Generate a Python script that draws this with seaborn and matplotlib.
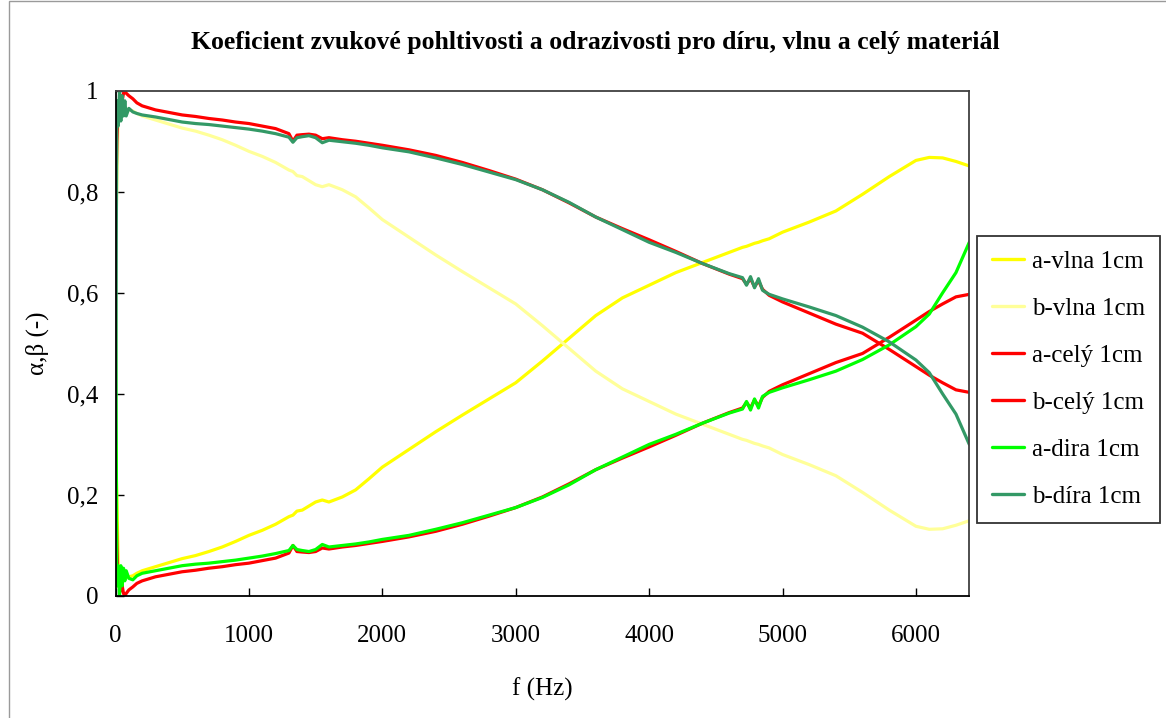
import numpy as np
import pandas as pd
import matplotlib
matplotlib.use("Agg")
import matplotlib.pyplot as plt
import matplotlib.patches as mpatches
from matplotlib.ticker import FuncFormatter, MultipleLocator
import seaborn as sns

freq = [0, 10, 20, 30, 40, 50, 60, 70, 80, 100, 130, 160, 200, 300, 400, 500, 600, 700, 800, 900,
        1000, 1100, 1200, 1300, 1330, 1360, 1400, 1450, 1500, 1550, 1600, 1700, 1800, 1900,
        2000, 2200, 2400, 2600, 2800, 3000, 3200, 3400, 3600, 3800, 4000, 4200, 4400, 4600,
        4700, 4730, 4760, 4790, 4820, 4850, 4900, 5000, 5200, 5400, 5600, 5800, 6000, 6100,
        6200, 6300, 6400]

a_vlna = [0.30, 0.20, 0.06, 0.04, 0.05, 0.035, 0.04, 0.038, 0.036, 0.038, 0.040, 0.045, 0.050,
          0.058, 0.066, 0.074, 0.080, 0.088, 0.097, 0.108, 0.120, 0.130, 0.142, 0.157, 0.160,
          0.168, 0.170, 0.178, 0.186, 0.190, 0.186, 0.196, 0.210, 0.232, 0.255, 0.290, 0.325,
          0.358, 0.390, 0.422, 0.465, 0.510, 0.555, 0.590, 0.615, 0.640, 0.660, 0.680, 0.690,
          0.692, 0.695, 0.698, 0.700, 0.703, 0.707, 0.720, 0.740, 0.762, 0.795, 0.830, 0.862,
          0.868, 0.867, 0.860, 0.851]

b_vlna = [0.70, 0.80, 0.94, 0.96, 0.95, 0.965, 0.96, 0.962, 0.964, 0.962, 0.960, 0.955, 0.950,
          0.942, 0.934, 0.926, 0.920, 0.912, 0.903, 0.892, 0.880, 0.870, 0.858, 0.843, 0.840,
          0.832, 0.830, 0.822, 0.814, 0.810, 0.814, 0.804, 0.790, 0.768, 0.745, 0.710, 0.675,
          0.642, 0.610, 0.578, 0.535, 0.490, 0.445, 0.410, 0.385, 0.360, 0.340, 0.320, 0.310,
          0.308, 0.305, 0.302, 0.300, 0.297, 0.293, 0.280, 0.260, 0.238, 0.205, 0.170, 0.138,
          0.132, 0.133, 0.140, 0.149]

a_cely = [0.25, 0.10, 0.02, 0.03, 0.01, 0.02, 0.005, 0.0, 0.005, 0.012, 0.018, 0.025, 0.030,
          0.038, 0.043, 0.048, 0.051, 0.055, 0.058, 0.062, 0.065, 0.070, 0.075, 0.085, 0.100,
          0.088, 0.087, 0.086, 0.088, 0.095, 0.093, 0.097, 0.100, 0.104, 0.108, 0.117, 0.128,
          0.142, 0.158, 0.175, 0.196, 0.222, 0.250, 0.273, 0.295, 0.318, 0.342, 0.363, 0.372,
          0.383, 0.372, 0.388, 0.376, 0.393, 0.405, 0.418, 0.440, 0.462, 0.480, 0.512, 0.546,
          0.563, 0.578, 0.592, 0.597]

b_cely = [0.75, 0.90, 0.97, 0.96, 0.99, 0.98, 0.995, 1.0, 0.995, 0.990, 0.984, 0.976, 0.970,
          0.962, 0.957, 0.952, 0.949, 0.945, 0.942, 0.938, 0.935, 0.930, 0.925, 0.915, 0.900,
          0.912, 0.913, 0.914, 0.912, 0.905, 0.907, 0.903, 0.900, 0.896, 0.892, 0.883, 0.872,
          0.858, 0.842, 0.825, 0.804, 0.778, 0.750, 0.727, 0.705, 0.682, 0.658, 0.637, 0.628,
          0.617, 0.628, 0.612, 0.624, 0.607, 0.595, 0.582, 0.560, 0.538, 0.520, 0.488, 0.454,
          0.437, 0.422, 0.408, 0.403]

a_dira = [0.70, 0.02, 0.06, 0.0, 0.06, 0.02, 0.055, 0.03, 0.05, 0.035, 0.032, 0.040, 0.045,
          0.050, 0.055, 0.060, 0.063, 0.065, 0.068, 0.071, 0.075, 0.079, 0.084, 0.090, 0.100,
          0.092, 0.090, 0.088, 0.092, 0.102, 0.097, 0.100, 0.103, 0.107, 0.112, 0.120, 0.132,
          0.145, 0.160, 0.175, 0.195, 0.220, 0.250, 0.275, 0.300, 0.320, 0.342, 0.362, 0.370,
          0.385, 0.368, 0.390, 0.372, 0.395, 0.403, 0.412, 0.428, 0.445, 0.468, 0.497, 0.533,
          0.558, 0.600, 0.640, 0.700]

b_dira = [0.30, 0.98, 0.93, 1.0, 0.94, 0.99, 0.95, 0.98, 0.95, 0.965, 0.958, 0.955, 0.952,
          0.948, 0.943, 0.938, 0.935, 0.933, 0.930, 0.927, 0.924, 0.920, 0.915, 0.908, 0.898,
          0.907, 0.909, 0.911, 0.907, 0.897, 0.902, 0.899, 0.896, 0.892, 0.887, 0.879, 0.867,
          0.854, 0.839, 0.824, 0.804, 0.779, 0.750, 0.725, 0.700, 0.680, 0.658, 0.638, 0.630,
          0.615, 0.632, 0.610, 0.628, 0.605, 0.597, 0.588, 0.572, 0.555, 0.532, 0.503, 0.467,
          0.442, 0.400, 0.360, 0.300]

series_names = ["a-vlna 1cm", "b-vlna 1cm", "a-celý 1cm", "b-celý 1cm", "a-dira 1cm", "b-díra 1cm"]
series_values = [a_vlna, b_vlna, a_cely, b_cely, a_dira, b_dira]
series_colors = ["#FFFF00", "#FFFF99", "#FF0000", "#FF0000", "#00FF00", "#339966"]

title_text = "Koeficient zvukové pohltivosti a odrazivosti pro díru, vlnu a celý materiál"
x_label = "f (Hz)"
y_label = "α,β (-)"

sns.set_theme(style="white")
plt.rcParams['font.family'] = ['Liberation Serif', 'DejaVu Serif']
plt.rcParams['text.color'] = 'black'
plt.rcParams['axes.labelcolor'] = 'black'
plt.rcParams['xtick.color'] = 'black'
plt.rcParams['ytick.color'] = 'black'

W, H = 1166, 718
fig = plt.figure(figsize=(W / 100, H / 100), dpi=100)
fig.patch.set_facecolor("white")

left, right, top, bottom = 115.5, 969.3, 90.7, 596.0
ax = fig.add_axes([left / W, 1 - bottom / H, (right - left) / W, (bottom - top) / H])
ax.set_facecolor("white")

for name, vals, col in zip(series_names, series_values, series_colors):
    sns.lineplot(x=freq, y=vals, color=col, label=name, ax=ax, linewidth=2.3,
                 sort=False, estimator=None)

ax.set_xlim(0, 6400)
ax.set_ylim(0, 1)
ax.xaxis.set_major_locator(MultipleLocator(1000))
ax.yaxis.set_major_locator(MultipleLocator(0.2))


def yfmt(v, pos):
    s = f"{v:.1f}".rstrip("0").rstrip(".")
    return s.replace(".", ",")


ax.yaxis.set_major_formatter(FuncFormatter(yfmt))
ax.xaxis.set_major_formatter(FuncFormatter(lambda v, p: f"{int(v)}"))

ax.tick_params(axis="both", direction="in", length=5.5, width=1, colors="black",
               labelsize=18, bottom=True, left=True)
ax.tick_params(axis="x", pad=21)
ax.tick_params(axis="y", pad=12)
for sp in ax.spines.values():
    sp.set_visible(True)
    sp.set_color("black")
    sp.set_linewidth(1.3)
ax.spines["right"].set_color("#404040")
ax.spines["top"].set_color("#404040")
ax.set_xlabel("")
ax.set_ylabel("")

leg = ax.legend(loc="upper left", bbox_to_anchor=(976.7 / W, 1 - 235.7 / H),
                bbox_transform=fig.transFigure, borderaxespad=0, frameon=True,
                fancybox=False, shadow=False, fontsize=18, handlelength=1.3,
                handletextpad=0.3, labelspacing=0.98, borderpad=0.6)
leg.get_frame().set_edgecolor("black")
leg.get_frame().set_linewidth(1.3)
for line in leg.get_lines():
    line.set_linewidth(2.4)
for t in leg.get_texts():
    t.set_color("black")

fig.text(595 / W, 1 - 42 / H, title_text, ha="center", va="center", fontsize=18.5,
         fontweight="bold", color="black")
fig.text(542 / W, 1 - 689 / H, x_label, ha="center", va="center", fontsize=18, color="black")
fig.text(37 / W, 1 - 343 / H, y_label, ha="center", va="center", fontsize=18, rotation=90,
         color="black")

border = mpatches.Rectangle((9 / W, -0.05), 1.2, 1 - 1.5 / H + 0.05, transform=fig.transFigure,
                            fill=False, edgecolor="#9a9a9a", linewidth=1.0)
fig.patches.append(border)

fig.savefig("out.png", dpi=100, facecolor="white")
